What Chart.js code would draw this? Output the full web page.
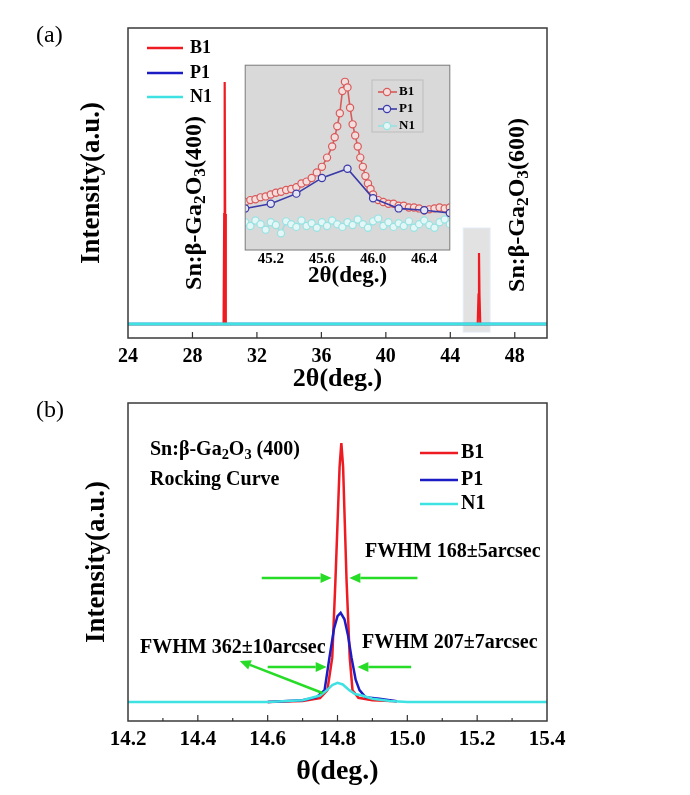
<!DOCTYPE html>
<html>
<head>
<meta charset="utf-8">
<script src="https://cdn.jsdelivr.net/npm/chart.js@4.4.0/dist/chart.umd.min.js"></script>
<style>
  body { margin: 0; background: #fff; }
  #wrap { position: relative; width: 690px; height: 795px; }
  canvas { position: absolute; }
</style>
</head>
<body>
<div id="wrap">
  <canvas id="chartA" width="690" height="395" style="left:0;top:0"></canvas>
  <canvas id="inset" width="215" height="235" style="left:240px;top:60px"></canvas>
  <canvas id="chartB" width="690" height="400" style="left:0;top:395px"></canvas>
</div>
<script>
// ---- data ----
var seriesNames = ["B1", "P1", "N1"];

// (a) 2theta scan, [2theta, intensity a.u.]
var scanTicks = [24, 28, 32, 36, 40, 44, 48];
var scanB1 = [[24, 4.5], [29.93, 4.5], [29.97, 40], [30.0, 82.6], [30.03, 40], [30.07, 4.5],
              [45.70, 4.5], [45.75, 14], [45.78, 27.4], [45.81, 14], [45.86, 4.5], [50, 4.5]];
var scanP1 = [[24, 4.5], [50, 4.5]];
var scanN1 = [[24, 4.5], [50, 4.5]];

// (a) inset, zoom of the (600) peak
var insetTicks = [45.2, 45.6, 46.0, 46.4];
var insetB1 = [[45.00, 26], [45.04, 27], [45.08, 27.5], [45.12, 28.5], [45.16, 29], [45.20, 30],
               [45.24, 31], [45.28, 31.5], [45.32, 32.5], [45.36, 33], [45.40, 34], [45.44, 36],
               [45.48, 37], [45.52, 39], [45.56, 42], [45.60, 45], [45.64, 50], [45.68, 56],
               [45.70, 61], [45.72, 67], [45.74, 74], [45.76, 86], [45.78, 91], [45.80, 88],
               [45.82, 77], [45.84, 68], [45.86, 62], [45.88, 56], [45.90, 50], [45.92, 45],
               [45.94, 40], [45.96, 36], [45.98, 33], [46.00, 30], [46.04, 27], [46.08, 26],
               [46.12, 25], [46.16, 25], [46.20, 24], [46.24, 24], [46.28, 23], [46.32, 23],
               [46.36, 22.5], [46.40, 21.5], [46.44, 22], [46.48, 22.5], [46.52, 23], [46.56, 22.5],
               [46.60, 23]];
var insetP1 = [[45.0, 22.5], [45.2, 25], [45.4, 30.5], [45.6, 39], [45.8, 44], [46.0, 28],
               [46.2, 22.5], [46.4, 21.5], [46.6, 20]];
var insetN1 = [[45.00, 15], [45.04, 13], [45.08, 16], [45.12, 14], [45.16, 11], [45.20, 15],
               [45.24, 13.5], [45.28, 9], [45.32, 15.5], [45.36, 14], [45.40, 12.5], [45.44, 16],
               [45.48, 13], [45.52, 14.5], [45.56, 12], [45.60, 15], [45.64, 13], [45.68, 16],
               [45.72, 14], [45.76, 12.5], [45.80, 15], [45.84, 13.5], [45.88, 16.5], [45.92, 14],
               [45.96, 12], [46.00, 15.5], [46.04, 17], [46.08, 13], [46.12, 15], [46.16, 12.5],
               [46.20, 14.5], [46.24, 13], [46.28, 15.5], [46.32, 12], [46.36, 14], [46.40, 16],
               [46.44, 13.5], [46.48, 12], [46.52, 15], [46.56, 16.5], [46.60, 14]];

// (b) rocking curve, [theta, intensity a.u.]
var rockTicks = [14.2, 14.4, 14.6, 14.8, 15.0, 15.2, 15.4];
var rockMinor = [14.3, 14.5, 14.7, 14.9, 15.1, 15.3];
var rockB1 = [[14.60, 6], [14.70, 6.3], [14.75, 7.2], [14.771, 9.7], [14.785, 20], [14.794, 44],
              [14.80, 62], [14.806, 80], [14.811, 87.4], [14.816, 80], [14.821, 62], [14.826, 44],
              [14.835, 20], [14.843, 9.7], [14.86, 7.3], [14.90, 6.5], [14.97, 6.2]];
var rockP1 = [[14.60, 6], [14.70, 6.5], [14.74, 7.5], [14.763, 9.7], [14.777, 20], [14.79, 29],
              [14.80, 33], [14.809, 34], [14.82, 32], [14.83, 27], [14.84, 20], [14.852, 13],
              [14.863, 9.7], [14.88, 7.5], [14.92, 7], [14.97, 6.2]];
var rockN1 = [[14.20, 6], [14.60, 6], [14.70, 6.5], [14.75, 8], [14.77, 9.7], [14.785, 11.3],
              [14.80, 12], [14.815, 11.5], [14.834, 9.7], [14.85, 8.5], [14.87, 8], [14.90, 7],
              [14.95, 6.3], [15.00, 6], [15.40, 6]];

// FWHM arrows [fromX, fromY, toX, toY] in axis units, head at "to"
var fwhmArrows = [[14.583, 45, 14.783, 45], [15.029, 45, 14.834, 45],
                  [14.60, 17, 14.769, 17], [15.011, 17, 14.857, 17],
                  [14.757, 8.8, 14.52, 18.9]];
var zoomBox = [44.8, 1.9, 46.47, 35.5];

// ---- styles ----
var FONT = "'Liberation Serif', 'Times New Roman', serif";
var colors = ["#ee1c22", "#1c1cc4", "#3fe2e2"];
var insetColors = ["#d95a5a", "#3a3aa8", "#98e2e2"];
var insetFill = ["#f3dede", "#e4e4f2", "#e4f6f6"];

function fnt(size, bold) { return (bold === false ? "" : "bold ") + size + "px " + FONT; }
function pts(arr) { return arr.map(function (p) { return { x: p[0], y: p[1] }; }); }

// text with subscripts: parts = [[text, isSub], ...]
function drawRich(ctx, parts, x, y, size, align) {
  var sub = size * 0.72, w = 0;
  parts.forEach(function (p) { ctx.font = fnt(p[1] ? sub : size); w += ctx.measureText(p[0]).width; });
  var cx = align === "center" ? x - w / 2 : x;
  ctx.textAlign = "left";
  ctx.textBaseline = "middle";
  parts.forEach(function (p) {
    ctx.font = fnt(p[1] ? sub : size);
    ctx.fillText(p[0], cx, p[1] ? y + size * 0.25 : y);
    cx += ctx.measureText(p[0]).width;
  });
}

function arrow(ctx, x1, y1, x2, y2) {
  var a = Math.atan2(y2 - y1, x2 - x1), L = 11, H = 5;
  var bx = x2 - L * Math.cos(a), by = y2 - L * Math.sin(a);
  ctx.beginPath(); ctx.moveTo(x1, y1); ctx.lineTo(bx, by); ctx.stroke();
  ctx.beginPath(); ctx.moveTo(x2, y2);
  ctx.lineTo(bx + H * Math.sin(a), by - H * Math.cos(a));
  ctx.lineTo(bx - H * Math.sin(a), by + H * Math.cos(a));
  ctx.closePath(); ctx.fill();
}

function bottomTicks(chart, major, minor) {
  var ctx = chart.ctx, x = chart.scales.x, b = chart.chartArea.bottom;
  ctx.save(); ctx.strokeStyle = "#333"; ctx.lineWidth = 1.2;
  major.forEach(function (v) { var p = x.getPixelForValue(v); ctx.beginPath(); ctx.moveTo(p, b); ctx.lineTo(p, b - 6); ctx.stroke(); });
  (minor || []).forEach(function (v) { var p = x.getPixelForValue(v); ctx.beginPath(); ctx.moveTo(p, b); ctx.lineTo(p, b - 3); ctx.stroke(); });
  ctx.restore();
}

function frame(chart, color, lw) {
  var a = chart.chartArea, ctx = chart.ctx;
  ctx.save(); ctx.strokeStyle = color; ctx.lineWidth = lw;
  ctx.strokeRect(a.left, a.top, a.right - a.left, a.bottom - a.top);
  ctx.restore();
}

function lineLegend(ctx, x0, x1, tx, ys, size, cols, lw) {
  seriesNames.forEach(function (n, i) {
    ctx.strokeStyle = cols[i]; ctx.lineWidth = lw;
    ctx.beginPath(); ctx.moveTo(x0, ys[i]); ctx.lineTo(x1, ys[i]); ctx.stroke();
    ctx.fillStyle = "#000"; ctx.font = fnt(size); ctx.textAlign = "left"; ctx.textBaseline = "middle";
    ctx.fillText(n, tx, ys[i]);
  });
}

function xAxis(min, max, ticks, fmt, tickSize, pad, title, titleSize, titlePad, height) {
  return {
    type: "linear", min: min, max: max,
    grid: { display: false, drawTicks: false }, border: { display: false },
    afterBuildTicks: function (s) { s.ticks = ticks.map(function (v) { return { value: v }; }); },
    afterFit: function (s) { s.height = height; },
    ticks: { color: "#000", padding: pad, maxRotation: 0, autoSkip: false,
             font: { family: FONT, size: tickSize, weight: "bold" }, callback: fmt },
    title: { display: true, text: title, color: "#000", padding: { top: 0, bottom: titlePad },
             font: { family: FONT, size: titleSize, weight: "bold" } }
  };
}

function yAxis(titlePad) {
  return {
    min: 0, max: 100,
    grid: { display: false, drawTicks: false }, border: { display: false },
    ticks: { display: false },
    afterFit: function (s) { s.width = 68; },
    title: { display: true, text: "Intensity(a.u.)", color: "#000", padding: { top: titlePad, bottom: 0 },
             font: { family: FONT, size: 27, weight: "bold" } }
  };
}

function ds(i, data, order, lw) {
  return { label: seriesNames[i], data: pts(data), borderColor: colors[i], borderWidth: lw,
           pointRadius: 0, tension: 0, order: order };
}

var baseOpts = { responsive: false, animation: false, events: [],
                 plugins: { legend: { display: false }, tooltip: { enabled: false } } };

// ---- (a) XRD scan ----
new Chart(document.getElementById("chartA"), {
  type: "line",
  data: { datasets: [ds(0, scanB1, 2, 2.2), ds(1, scanP1, 3, 2.5), ds(2, scanN1, 1, 3)] },
  options: Object.assign({}, baseOpts, {
    layout: { padding: { left: 60, right: 143, top: 28, bottom: 0 } },
    scales: {
      x: xAxis(24, 50, scanTicks, function (v) { return String(v); }, 20, 7, "2θ(deg.)", 26, 0, 57),
      y: yAxis(16)
    }
  }),
  plugins: [{
    id: "decoA",
    beforeDatasetsDraw: function (c) {
      var x = c.scales.x, y = c.scales.y, ctx = c.ctx;
      var l = x.getPixelForValue(zoomBox[0]), r = x.getPixelForValue(zoomBox[2]);
      var b = y.getPixelForValue(zoomBox[1]), t = y.getPixelForValue(zoomBox[3]);
      ctx.save(); ctx.fillStyle = "#e2e2e2"; ctx.fillRect(l, t, r - l, b - t);
      ctx.strokeStyle = "#e4eef6"; ctx.lineWidth = 1; ctx.strokeRect(l, t, r - l, b - t); ctx.restore();
    },
    afterDraw: function (c) {
      var ctx = c.ctx;
      frame(c, "#3a3a3a", 1.5);
      bottomTicks(c, scanTicks.slice(1));
      ctx.save();
      lineLegend(ctx, 147, 183, 190, [48, 73, 97], 18, colors, 2.5);
      ctx.fillStyle = "#000"; ctx.font = fnt(24, false); ctx.textAlign = "left"; ctx.textBaseline = "middle";
      ctx.fillText("(a)", 36, 36);
      var lab = function (hkl) { return [["Sn:β-Ga", false], ["2", true], ["O", false], ["3", true], ["(" + hkl + ")", false]]; };
      [[195, 203, "400"], [518, 205, "600"]].forEach(function (L) {
        ctx.save(); ctx.translate(L[0], L[1]); ctx.rotate(-Math.PI / 2);
        drawRich(ctx, lab(L[2]), 0, 0, 24, "center");
        ctx.restore();
      });
      ctx.restore();
    }
  }]
});

// ---- (a) inset ----
function insetDs(i, data, order, r) {
  return { label: seriesNames[i], data: pts(data), borderColor: insetColors[i], borderWidth: 1.6,
           pointRadius: r, pointBorderColor: insetColors[i], pointBackgroundColor: insetFill[i],
           pointBorderWidth: 1.2, tension: 0, order: order };
}
new Chart(document.getElementById("inset"), {
  type: "line",
  data: { datasets: [insetDs(0, insetB1, 2, 3.6), insetDs(1, insetP1, 1, 3.6), insetDs(2, insetN1, 3, 3.6)] },
  options: Object.assign({}, baseOpts, {
    layout: { padding: { left: 5, right: 5, top: 5, bottom: 0 } },
    scales: {
      x: xAxis(45.0, 46.6, insetTicks, function (v) { return v.toFixed(1); }, 15, 0, "2θ(deg.)", 23, 5, 45),
      y: { display: false, min: 0, max: 100 }
    }
  }),
  plugins: [{
    id: "decoInset",
    beforeDraw: function (c) {
      var a = c.chartArea;
      c.ctx.save(); c.ctx.fillStyle = "#d9d9d9"; c.ctx.fillRect(a.left, a.top, a.right - a.left, a.bottom - a.top); c.ctx.restore();
    },
    afterDraw: function (c) {
      var ctx = c.ctx;
      frame(c, "#7a7a7a", 1);
      ctx.save();
      ctx.strokeStyle = "#bdbdbd"; ctx.lineWidth = 1; ctx.strokeRect(132, 20, 51, 52);
      var ys = [32, 49, 66];
      seriesNames.forEach(function (n, i) {
        ctx.strokeStyle = insetColors[i]; ctx.lineWidth = 1.6;
        ctx.beginPath(); ctx.moveTo(138, ys[i]); ctx.lineTo(157, ys[i]); ctx.stroke();
        ctx.fillStyle = insetFill[i]; ctx.lineWidth = 1.2;
        ctx.beginPath(); ctx.arc(147, ys[i], 3.6, 0, Math.PI * 2); ctx.fill(); ctx.stroke();
        ctx.fillStyle = "#000"; ctx.font = fnt(13); ctx.textAlign = "left"; ctx.textBaseline = "middle";
        ctx.fillText(n, 159, ys[i]);
      });
      ctx.restore();
    }
  }]
});

// ---- (b) rocking curve ----
new Chart(document.getElementById("chartB"), {
  type: "line",
  data: { datasets: [ds(0, rockB1, 3, 2.5), ds(1, rockP1, 2, 2.5), ds(2, rockN1, 1, 2.5)] },
  options: Object.assign({}, baseOpts, {
    layout: { padding: { left: 60, right: 143, top: 8, bottom: 0 } },
    scales: {
      x: xAxis(14.2, 15.4, rockTicks, function (v) { return v.toFixed(1); }, 21, 6, "θ(deg.)", 28, 6, 74),
      y: yAxis(21)
    }
  }),
  plugins: [{
    id: "decoB",
    afterDraw: function (c) {
      var ctx = c.ctx, x = c.scales.x, y = c.scales.y;
      frame(c, "#3a3a3a", 1.5);
      bottomTicks(c, rockTicks.slice(1, -1), rockMinor);
      ctx.save();
      ctx.strokeStyle = "#26dc26"; ctx.fillStyle = "#26dc26"; ctx.lineWidth = 2.5;
      fwhmArrows.forEach(function (A) {
        arrow(ctx, x.getPixelForValue(A[0]), y.getPixelForValue(A[1]), x.getPixelForValue(A[2]), y.getPixelForValue(A[3]));
      });
      lineLegend(ctx, 420, 458, 461, [58, 85, 109], 20, colors, 2.5);
      ctx.fillStyle = "#000"; ctx.font = fnt(24, false); ctx.textAlign = "left"; ctx.textBaseline = "middle";
      ctx.fillText("(b)", 36, 16);
      drawRich(ctx, [["Sn:β-Ga", false], ["2", true], ["O", false], ["3", true], [" (400)", false]], 150, 55, 20, "left");
      drawRich(ctx, [["Rocking Curve", false]], 150, 85, 20, "left");
      drawRich(ctx, [["FWHM 168±5arcsec", false]], 365, 157, 20, "left");
      drawRich(ctx, [["FWHM 207±7arcsec", false]], 362, 248, 20, "left");
      drawRich(ctx, [["FWHM 362±10arcsec", false]], 140, 253, 20, "left");
      ctx.restore();
    }
  }]
});
</script>
</body>
</html>
